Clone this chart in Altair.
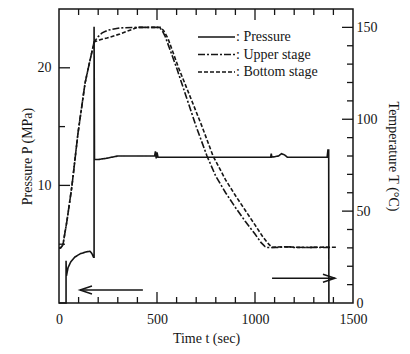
import altair as alt
import pandas as pd

# ---------------- data ----------------
series_names = ["Pressure", "Upper stage", "Bottom stage"]

# Pressure P (MPa) vs time t (sec)
p_t = [0, 36, 36, 38, 46, 60, 80, 110, 140, 158, 168, 176, 179, 179, 181, 200, 240, 300,
       488, 492, 496, 500, 505, 515, 700, 900, 1080, 1083, 1086, 1120, 1135, 1150, 1165,
       1300, 1368, 1372, 1376, 1377]
p_P = [0, 0, 3.6, 2.3, 3.0, 3.5, 3.9, 4.2, 4.35, 4.4, 4.2, 3.9, 3.9, 23.5, 12.2, 12.2, 12.3, 12.5,
       12.5, 12.9, 12.3, 12.8, 12.4, 12.4, 12.4, 12.4, 12.4, 12.7, 12.4, 12.5, 12.7, 12.6, 12.4,
       12.4, 12.4, 13.0, 13.0, 0]

# Upper stage temperature (°C)
up_t = [0, 8, 20, 41, 66, 97, 133, 158, 179, 200, 220, 250, 310, 400, 512, 525, 541, 600, 650,
        700, 755, 800, 850, 900, 950, 1000, 1030, 1050, 1065, 1100, 1180, 1190, 1250, 1383]
up_T = [30, 30, 31.6, 45, 63.7, 92.5, 119.7, 132, 142, 145, 147, 148.5, 149.7, 150, 150, 148.5,
        145.3, 128, 112, 96, 80, 69, 60, 52, 44.5, 37.5, 33, 30.8, 30.2, 30.2, 30.6, 30.2, 30.3, 30.2]

# Bottom stage temperature (°C)
bot_t = [0, 8, 20, 41, 66, 97, 133, 158, 179, 210, 245, 311, 350, 378, 400, 520, 535, 556, 610,
         668, 730, 786, 850, 900, 950, 1000, 1040, 1070, 1087, 1150, 1250, 1350, 1418]
bot_T = [30, 30, 31.6, 45, 63.7, 92.5, 119.7, 132, 142, 143.3, 144.2, 146.4, 148, 149.1, 150, 150,
         148, 144, 128, 112.6, 96, 80, 67, 58.5, 50.5, 42.5, 36, 32, 30.3, 30.6, 30.2, 30.4, 30.3]

# arrows (on pressure axis)
arrow_start = [428, 1087]
arrow_end = [107, 1408]
arrow_P = [1.1, 2.1]
arrow_dir = ["left", "right"]

# axis labels and tick marks
x_labels = [0, 500, 1000, 1500]
x_minor = [100, 200, 300, 400, 600, 700, 800, 900, 1100, 1200, 1300, 1400]
x_major = [500, 1000]
p_labels = [10, 20]
p_minor = [5, 15]
p_major = [10, 20]
T_labels = [0, 50, 100, 150]
T_minor = [10, 20, 30, 40, 60, 70, 80, 90, 110, 120, 130, 140]
T_major = [50, 100, 150]

# ---------------- frames ----------------
p_df = pd.DataFrame({"t": p_t, "P": p_P, "series": "Pressure", "i": range(len(p_t))})
T_df = pd.concat([
    pd.DataFrame({"t": up_t, "T": up_T, "series": "Upper stage", "i": range(len(up_t))}),
    pd.DataFrame({"t": bot_t, "T": bot_T, "series": "Bottom stage", "i": range(len(bot_t))}),
])
arr_df = pd.DataFrame({"t": arrow_start, "t1": arrow_end, "P": arrow_P})
head_df = pd.DataFrame({"t": arrow_end, "P": arrow_P, "dir": arrow_dir})

W, H = 294, 294
FONT = "Liberation Serif"
INK = "#151515"
MAJ, MIN = 11, 6

X = alt.X("t:Q", scale=alt.Scale(domain=[0, 1500], nice=False, zero=False),
          axis=alt.Axis(values=x_labels, title="Time t (sec)", labelFlush=False, format="d",
                        labelPadding=9, titlePadding=5))
YP = alt.Y("P:Q", scale=alt.Scale(domain=[0, 25], nice=False),
           axis=alt.Axis(values=p_labels, orient="left", title="Pressure P (MPa)",
                         labelPadding=8, titlePadding=3))
YT = alt.Y("T:Q", scale=alt.Scale(domain=[0, 160], nice=False),
           axis=alt.Axis(values=T_labels, orient="right", title="Temperature T (°C)",
                         labelPadding=3, titlePadding=8))
SD = alt.StrokeDash("series:N",
                    scale=alt.Scale(domain=series_names, range=[[1, 0], [7, 2, 2, 2], [4, 2]]),
                    legend=alt.Legend(orient="none", legendX=138, legendY=21, title=None,
                                      symbolType="stroke", symbolSize=1369, symbolStrokeWidth=1.5,
                                      symbolStrokeColor=INK, labelFont=FONT, labelFontSize=14,
                                      labelColor=INK, labelExpr="': ' + datum.label",
                                      clipHeight=14, labelOffset=0, rowPadding=3.5, padding=0))

pressure = alt.Chart(p_df).mark_line(strokeWidth=1.6, color=INK).encode(
    x=X, y=YP, strokeDash=SD, order="i:Q")
arrows = alt.Chart(arr_df).mark_rule(strokeWidth=1.5, color=INK).encode(x=X, x2="t1:Q", y=YP)
heads = alt.Chart(head_df).mark_point(filled=False, size=64, strokeWidth=1.5, opacity=1,
                                      color=INK).encode(
    x=X, y=YP,
    shape=alt.Shape("dir:N", scale=alt.Scale(domain=["left", "right"],
                                             range=["M 3 -1 L 0 0 L 3 1", "M -3 -1 L 0 0 L -3 1"]),
                    legend=None))

def xticks(vals, length, top):
    d = pd.DataFrame({"t": vals})
    if top:
        return alt.Chart(d).mark_rule(strokeWidth=1.3, color=INK).encode(
            x=X, y=alt.value(0), y2=alt.value(length))
    return alt.Chart(d).mark_rule(strokeWidth=1.3, color=INK).encode(
        x=X, y=alt.value(H), y2=alt.value(H - length))

def pticks(vals, length):
    d = pd.DataFrame({"P": vals})
    return alt.Chart(d).mark_rule(strokeWidth=1.3, color=INK).encode(
        y=YP, x=alt.value(0), x2=alt.value(length))

def tticks(vals, length):
    d = pd.DataFrame({"T": vals})
    return alt.Chart(d).mark_rule(strokeWidth=1.3, color=INK).encode(
        y=YT, x=alt.value(W), x2=alt.value(W - length))

temps = alt.Chart(T_df).mark_line(strokeWidth=1.6, color=INK).encode(
    x=X, y=YT, strokeDash=SD, detail="series:N", order="i:Q")

p_group = alt.layer(pressure, arrows, heads,
                    xticks(x_minor, MIN, False), xticks(x_major, MAJ, False),
                    xticks(x_minor, MIN, True), xticks(x_major, MAJ, True),
                    pticks(p_minor, MIN), pticks(p_major, MAJ))
t_group = alt.layer(temps, tticks(T_minor, MIN), tticks(T_major, MAJ))

chart = alt.layer(p_group, t_group).resolve_scale(y="independent").properties(
    width=W, height=H,
    padding={"left": 51, "top": 1, "right": 49, "bottom": 43},
    autosize=alt.AutoSizeParams(type="none"),
).configure_view(stroke=INK, strokeWidth=1.5).configure_axis(
    labelFont=FONT, titleFont=FONT, labelFontSize=14, titleFontSize=14,
    titleFontWeight="normal", labelColor=INK, titleColor=INK,
    ticks=False, domain=False, grid=False)

chart.save("out.html", embed_options={"renderer": "svg", "actions": False})
